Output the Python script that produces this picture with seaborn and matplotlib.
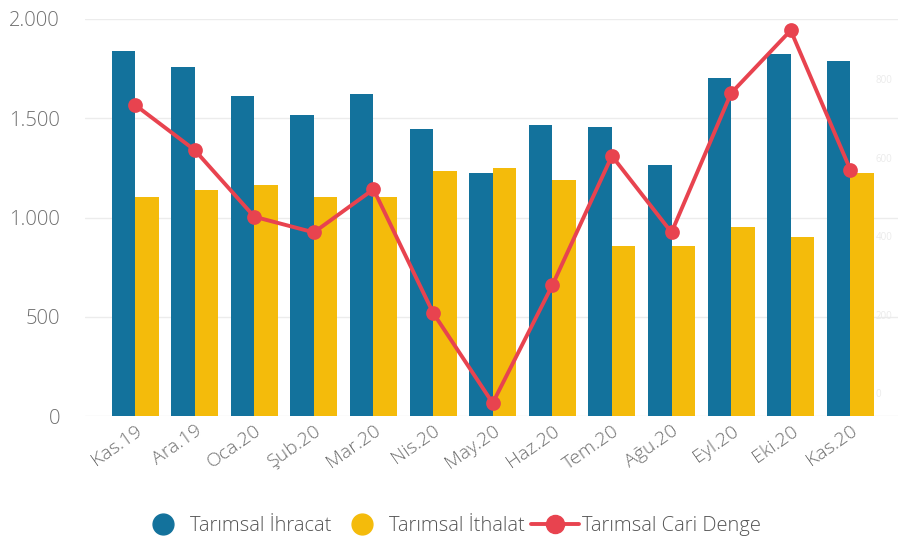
import numpy as np
import pandas as pd
import matplotlib
matplotlib.use("Agg")
import matplotlib.pyplot as plt
from matplotlib.lines import Line2D
from matplotlib.ticker import FuncFormatter
import seaborn as sns

months = ["Kas.19", "Ara.19", "Oca.20", "Şub.20", "Mar.20", "Nis.20", "May.20",
          "Haz.20", "Tem.20", "Ağu.20", "Eyl.20", "Eki.20", "Kas.20"]
ihracat = [1840, 1760, 1610, 1515, 1620, 1445, 1225, 1465, 1455, 1265, 1705, 1825, 1790]
ithalat = [1105, 1140, 1165, 1105, 1105, 1235, 1250, 1190, 855, 855, 950, 900, 1225]
cari_denge = [735, 620, 450, 410, 520, 205, -25, 275, 605, 410, 765, 925, 570]
left_ticks = [0, 500, 1000, 1500, 2000]
right_ticks = [0, 200, 400, 600, 800]

s_ihr = "Tarımsal İhracat"
s_ith = "Tarımsal İthalat"
s_cari = "Tarımsal Cari Denge"

c_blue = "#13729c"
c_yellow = "#f4bb0b"
c_red = "#e8434f"
c_text = "#6f6f6f"

sns.set_theme(style="white")
plt.rcParams['font.family'] = ['Open Sans', 'DejaVu Sans']

df = pd.DataFrame({
    "Ay": months * 2,
    "Seri": [s_ihr] * len(months) + [s_ith] * len(months),
    "Deger": ihracat + ithalat,
})
df_line = pd.DataFrame({"Ay": months, "Deger": cari_denge})

x_lo, x_hi = -0.84, 12.80
fig = plt.figure(figsize=(9, 5.48), dpi=100)
ax = fig.add_axes([85 / 900, 1 - 416 / 548, 813 / 900, 397 / 548])

sns.barplot(data=df, x="Ay", y="Deger", hue="Seri", order=months,
            hue_order=[s_ihr, s_ith], palette=[c_blue, c_yellow],
            width=0.79, saturation=1, ax=ax, legend=False)
for p in ax.patches:
    p.set_edgecolor("none")

ax.set_ylim(0, 2000)
ax.set_yticks(left_ticks)
ax.yaxis.set_major_formatter(FuncFormatter(lambda v, _: f"{int(v):,}".replace(",", ".")))
ax.grid(axis="y", color="#ececec", linewidth=1)
ax.set_axisbelow(True)
for s in ax.spines.values():
    s.set_visible(False)
ax.set_xlabel("")
ax.set_ylabel("")
ax.tick_params(axis="y", length=0, labelsize=14.5, labelcolor=c_text, pad=18)
ax.tick_params(axis="x", length=0, labelsize=14, labelcolor=c_text, pad=4)
for lbl in ax.get_xticklabels():
    lbl.set_rotation(35)
    lbl.set_ha("right")
    lbl.set_rotation_mode("anchor")
    lbl.set_fontweight("light")
for lbl in ax.get_yticklabels():
    lbl.set_fontweight("light")

ax2 = ax.twinx()
sns.pointplot(data=df_line, x="Ay", y="Deger", order=months, color=c_red,
              markers="o", linestyles="-", markersize=8.5, linewidth=2.8, ax=ax2)
ax2.set_ylim(-58, 954)
ax2.set_yticks(right_ticks)
ax2.tick_params(axis="y", length=0, labelsize=7, labelcolor="#ebebeb", pad=-16)
for s in ax2.spines.values():
    s.set_visible(False)
ax2.set_ylabel("")
ax2.set_xlabel("")
ax2.grid(False)
ax.set_xlim(x_lo, x_hi)
ax2.set_xlim(x_lo, x_hi)

handles = [
    Line2D([0], [0], marker="o", linestyle="none", markersize=15,
           markerfacecolor=c_blue, markeredgecolor=c_blue),
    Line2D([0], [0], marker="o", linestyle="none", markersize=15,
           markerfacecolor=c_yellow, markeredgecolor=c_yellow),
    Line2D([0], [0], marker="o", color=c_red, linewidth=2.8, markersize=13),
]
fig.legend(handles, [s_ihr, s_ith, s_cari], loc="center", ncol=3,
           bbox_to_anchor=(0.5, 1 - 526 / 548), frameon=False,
           fontsize=14.5, labelcolor="#555555", handletextpad=0.15,
           columnspacing=0.3, handlelength=2.4)
for t in fig.legends[0].get_texts():
    t.set_fontweight("light")

fig.savefig("out.png", dpi=100)
